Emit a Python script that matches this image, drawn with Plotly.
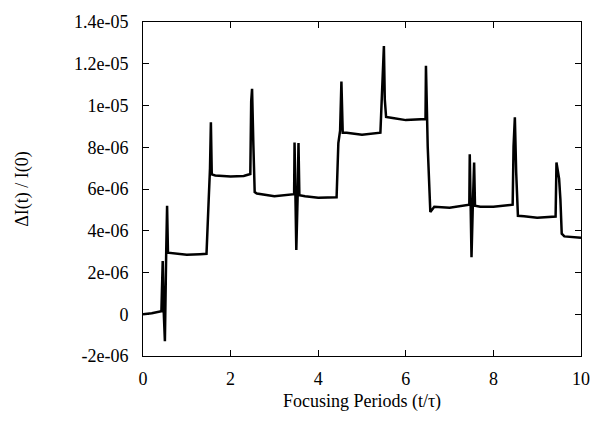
import numpy as np
import plotly.graph_objects as go

# focusing periods (t/tau) and dI/I0, in units of 1e-6
T = [0.00, 0.20, 0.42, 0.45, 0.47, 0.50, 0.53, 0.55, 0.57, 0.70, 1.00, 1.30, 1.45,
     1.50, 1.53, 1.55, 1.57, 1.65, 2.00, 2.30, 2.45, 2.47, 2.49, 2.52, 2.55, 2.60,
     3.00, 3.45, 3.46, 3.48, 3.50, 3.53, 3.55, 3.57, 3.70, 4.00, 4.42, 4.46, 4.50,
     4.53, 4.56, 4.65, 5.00, 5.42, 5.46, 5.50, 5.52, 5.55, 5.70, 6.00, 6.45, 6.46,
     6.50, 6.53, 6.56, 6.65, 7.00, 7.45, 7.46, 7.48, 7.50, 7.53, 7.56, 7.58, 7.70,
     8.00, 8.44, 8.46, 8.49, 8.52, 8.56, 8.70, 9.00, 9.42, 9.44, 9.50, 9.53, 9.56,
     9.62, 10.00]
DI_MICRO = [0.00, 0.05, 0.15, 2.55, 0.30, -1.29, 3.00, 5.20, 2.95, 2.92, 2.85, 2.88, 2.90,
            5.50, 7.00, 9.20, 6.70, 6.65, 6.60, 6.62, 6.72, 10.20, 10.80, 8.10, 5.85, 5.78,
            5.65, 5.75, 8.23, 5.70, 3.08, 5.60, 8.20, 5.70, 5.65, 5.58, 5.60, 8.20, 8.80,
            11.15, 8.70, 8.70, 8.60, 8.70, 11.00, 12.85, 10.30, 9.45, 9.40, 9.30, 9.35, 11.90,
            8.05, 6.65, 4.90, 5.15, 5.10, 5.25, 7.66, 5.30, 2.73, 5.20, 7.27, 5.20, 5.15,
            5.15, 5.25, 8.05, 9.44, 6.80, 4.72, 4.70, 4.62, 4.68, 7.27, 6.50, 5.50, 3.86,
            3.73, 3.67]

X_TICKS = [0, 2, 4, 6, 8, 10]
Y_TICKS = [-2e-6, 0, 2e-6, 4e-6, 6e-6, 8e-6, 1e-5, 1.2e-5, 1.4e-5]
Y_TICK_TEXT = ["-2e-06", "0", "2e-06", "4e-06", "6e-06", "8e-06", "1e-05", "1.2e-05", "1.4e-05"]

y = np.array(DI_MICRO) * 1e-6

fig = go.Figure()
fig.add_trace(
    go.Scatter(
        x=T,
        y=y,
        mode="lines",
        line=dict(color="black", width=2.5),
        showlegend=False,
    )
)

font = dict(family="Liberation Serif, Times New Roman, serif", size=18, color="black")
axis = dict(
    showline=True,
    linecolor="black",
    linewidth=1,
    mirror="ticks",
    ticks="inside",
    ticklen=6,
    tickcolor="black",
    showgrid=False,
    zeroline=False,
    tickfont=font,
)

fig.update_layout(
    width=602,
    height=423,
    margin=dict(l=143, r=20, t=12, b=67),
    paper_bgcolor="white",
    plot_bgcolor="white",
    font=font,
    xaxis=dict(
        axis,
        range=[0, 10],
        tickvals=X_TICKS,
        ticklabelstandoff=6,
        title=dict(text="Focusing Periods (t/τ)", font=font, standoff=6),
    ),
    yaxis=dict(
        axis,
        range=[-2e-6, 1.4e-5],
        tickvals=Y_TICKS,
        ticktext=Y_TICK_TEXT,
        ticklabelstandoff=10,
        title=dict(text="ΔI(t) / I(0)", font=font, standoff=40),
    ),
)

# drop the browser's default 8px body margin so the figure sits at the page corner
fig.write_html(
    "out.html",
    config={"displayModeBar": False},
    post_script="document.body.style.margin = '0';",
)
